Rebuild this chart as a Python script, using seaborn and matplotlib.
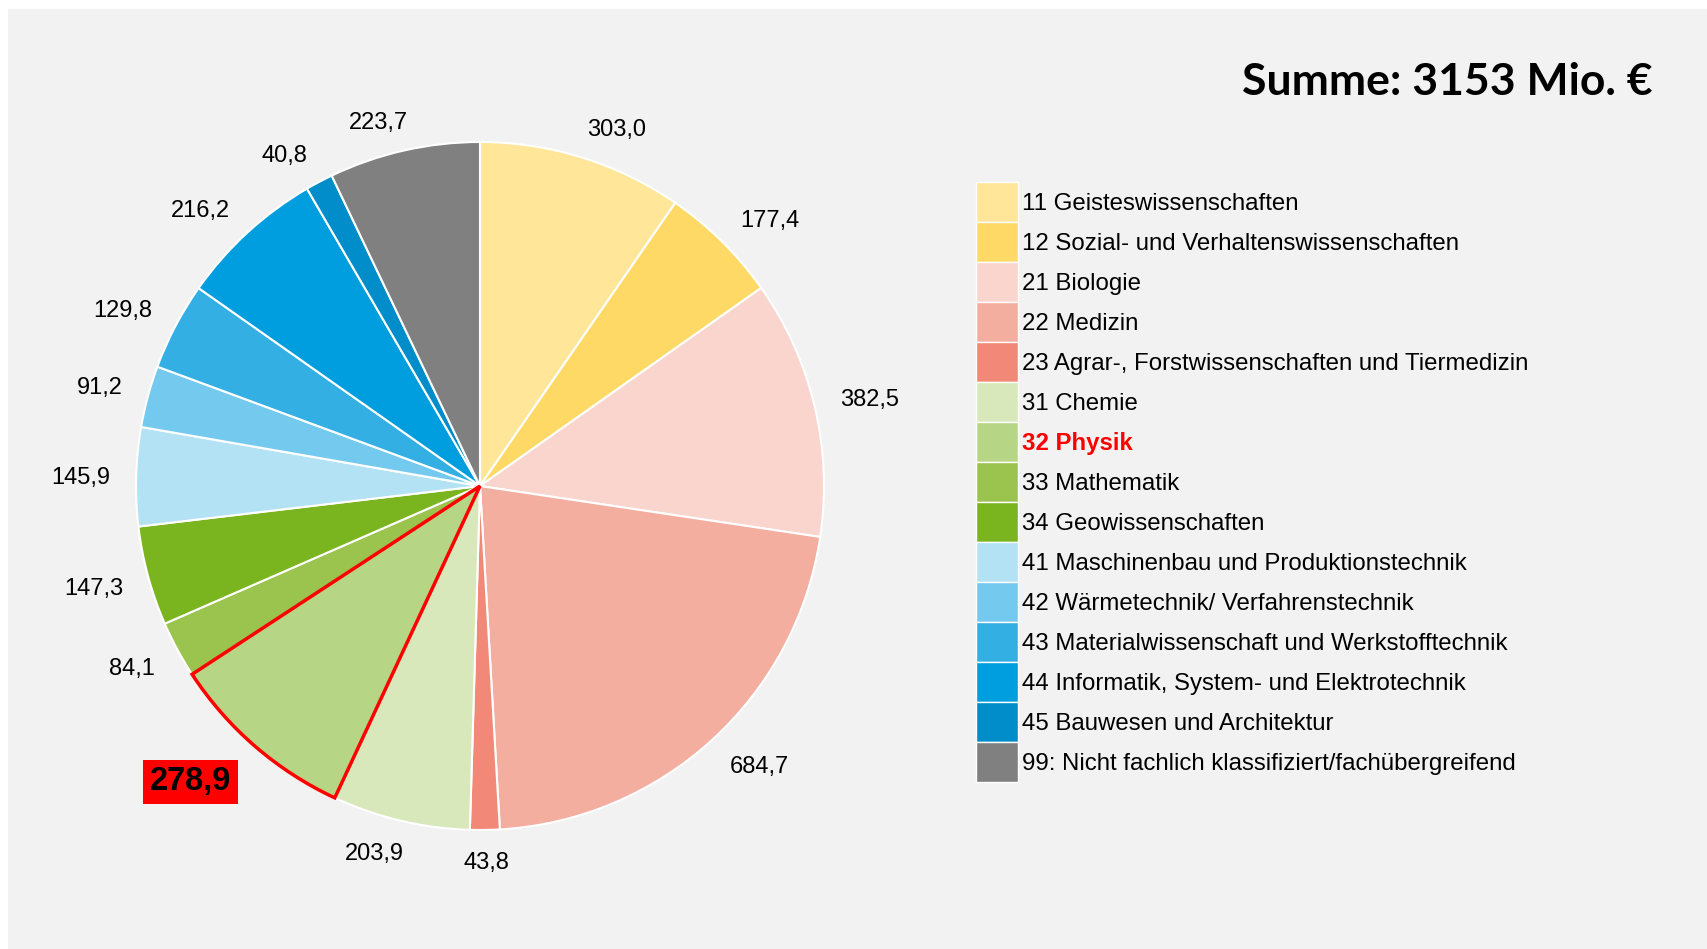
import matplotlib
matplotlib.use("Agg")
import matplotlib.pyplot as plt
import matplotlib.patches as mpatches
import numpy as np
import seaborn as sns

# Daten
labels = ["11 Geisteswissenschaften",
          "12 Sozial- und Verhaltenswissenschaften",
          "21 Biologie",
          "22 Medizin",
          "23 Agrar-, Forstwissenschaften und Tiermedizin",
          "31 Chemie",
          "32 Physik",
          "33 Mathematik",
          "34 Geowissenschaften",
          "41 Maschinenbau und Produktionstechnik",
          "42 Wärmetechnik/ Verfahrenstechnik",
          "43 Materialwissenschaft und Werkstofftechnik",
          "44 Informatik, System- und Elektrotechnik",
          "45 Bauwesen und Architektur",
          "99: Nicht fachlich klassifiziert/fachübergreifend"]
values = [303.0, 177.4, 382.5, 684.7, 43.8, 203.9, 278.9, 84.1,
          147.3, 145.9, 91.2, 129.8, 216.2, 40.8, 223.7]
colors = ["#FFE699", "#FFD966", "#F9D5CE", "#F4AE9F", "#F28877",
          "#D8E8BB", "#B6D685", "#9AC44D", "#7AB41E",
          "#B3E2F5", "#74C9EE", "#34AFE4", "#009DDF", "#008DC9", "#808080"]
highlight = 6
title = "Summe: 3153 Mio. €"

sns.set_style("white")
plt.rcParams['font.family'] = ['Liberation Sans', 'DejaVu Sans']
plt.rcParams['text.color'] = 'black'

W, H = 1707, 949
fig = plt.figure(figsize=(W / 100, H / 100), dpi=100, facecolor='white')

# grauer Hintergrund
fig.patches.append(mpatches.Rectangle((8 / W, 0), 1 - 8 / W, 1 - 9 / H,
                                      transform=fig.transFigure,
                                      facecolor='#F2F2F2', edgecolor='none', zorder=-5))

# Kreis
cx, cy, r = 480, 486, 344
ax = fig.add_axes([(cx - r) / W, (H - cy - r) / H, 2 * r / W, 2 * r / H])
ax.set_facecolor('none')
pal = sns.color_palette(colors)
wedges, _ = ax.pie(values, colors=pal, startangle=90, counterclock=False,
                   radius=1, wedgeprops=dict(edgecolor='white', linewidth=1.5))
ax.set_xlim(-1, 1)
ax.set_ylim(-1, 1)
ax.axis('off')

w = wedges[highlight]
w.set_edgecolor('red')
w.set_linewidth(2.5)
w.set_zorder(5)

# Beschriftungen ausserhalb, Box an den Rand geschoben (wie Excel)
renderer = fig.canvas.get_renderer()
gap = 26 / r
for i, (wd, v) in enumerate(zip(wedges, values)):
    mid = np.deg2rad((wd.theta1 + wd.theta2) / 2)
    c, s = np.cos(mid), np.sin(mid)
    txt = f"{v:.1f}".replace(".", ",")
    pad = 0
    if i == highlight:
        fsz = 23.5
        pad = 0.2 * fsz * 100 / 72
        t = ax.text(0, 0, txt, ha='center', va='center', fontsize=fsz,
                    fontweight='bold', color='black', zorder=10,
                    bbox=dict(boxstyle='square,pad=0.2', facecolor='red', edgecolor='none'))
    else:
        t = ax.text(0, 0, txt, ha='center', va='center_baseline', fontsize=17,
                    color='black', zorder=10)
    bb = t.get_window_extent(renderer)
    hw = (bb.width / 2 + pad) / r
    hh = (bb.height / 2 + pad - 6) / r
    k = 3
    x = (1 + gap) * c + hw * np.clip(c * k, -1, 1)
    y = (1 + gap) * s + hh * np.clip(s * k, -1, 1)
    t.set_position((x, y))

# Legende
handles = [mpatches.Patch(facecolor=c, edgecolor='white', linewidth=1) for c in colors]
fs = 17.3
pitch = 40 * 0.72  # Zeilenhoehe in pt
hgt = (pitch / fs - 0.245) / 0.65
leg = fig.legend(handles, labels, loc='upper left',
                 bbox_to_anchor=(976 / W, 1 - 182 / H), frameon=False,
                 fontsize=fs, borderpad=0, borderaxespad=0, labelspacing=0,
                 handlelength=42 * 0.72 / fs, handleheight=hgt,
                 handletextpad=0.15)
for i, t in enumerate(leg.get_texts()):
    t.set_color('black')
    if i == highlight:
        t.set_color('red')
        t.set_fontweight('bold')

fig.text(1653 / W, 1 - 82 / H, title, ha='right', va='center', fontsize=32,
         fontweight='bold', color='black', family=['Lato', 'DejaVu Sans'])

fig.savefig("out.png", dpi=100, facecolor=fig.get_facecolor())
